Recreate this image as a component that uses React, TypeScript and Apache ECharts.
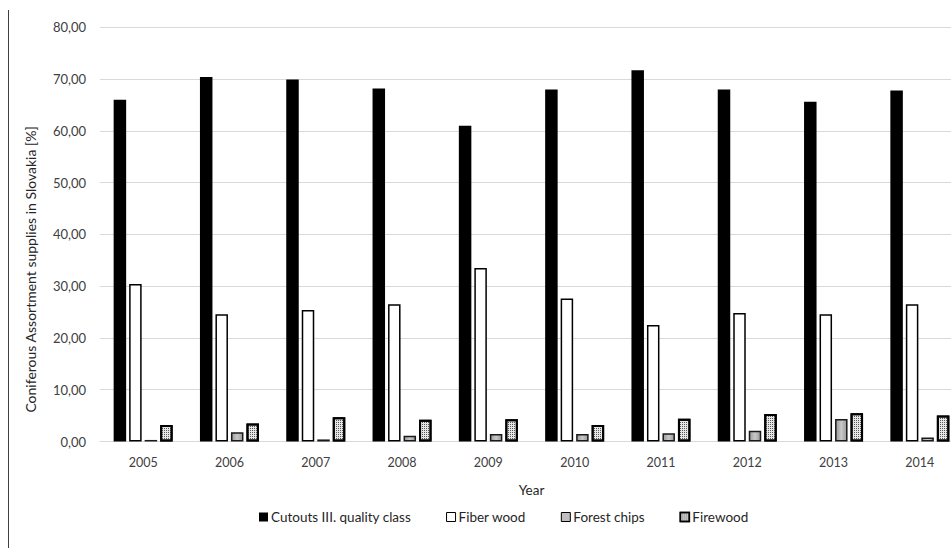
import React, { useEffect, useRef } from "react";
import * as echarts from "echarts";

const years = ["2005", "2006", "2007", "2008", "2009", "2010", "2011", "2012", "2013", "2014"];
const cutouts = [66.0, 70.4, 69.9, 68.2, 61.0, 68.0, 71.7, 68.0, 65.6, 67.8];
const fiberWood = [30.4, 24.6, 25.4, 26.5, 33.5, 27.6, 22.5, 24.8, 24.6, 26.5];
const forestChips = [0.3, 1.8, 0.4, 1.1, 1.45, 1.45, 1.6, 2.1, 4.35, 0.75];
const firewood = [3.2, 3.5, 4.7, 4.2, 4.3, 3.2, 4.4, 5.3, 5.45, 5.0];
const yTicks = { min: 0, max: 80, interval: 10 };

const FONT = "Lato, 'Liberation Sans', sans-serif";

export default function App() {
  const ref = useRef<HTMLDivElement>(null);
  useEffect(() => {
    if (!ref.current) return;
    const chart = echarts.init(ref.current, null, { renderer: "svg" });
    const barW = 12.5;
    const firewoodDecal = {
      symbol: "rect",
      symbolSize: 1,
      color: "rgba(40,40,40,0.75)",
      dashArrayX: [1, 1],
      dashArrayY: [1, 1],
      rotation: 0,
    };
    chart.setOption({
      animation: false,
      backgroundColor: "#fff",
      textStyle: { fontFamily: FONT },
      grid: { left: 100, right: 7, top: 27.3, bottom: 106.5, containLabel: false },
      graphic: [
        {
          type: "line",
          shape: { x1: 8.5, y1: 10, x2: 8.5, y2: 548 },
          style: { stroke: "#404040", lineWidth: 1 },
        },
      ],
      legend: {
        bottom: 19,
        left: 254,
        itemWidth: 9,
        itemHeight: 9,
        itemGap: 35,
        icon: "rect",
        textStyle: { fontSize: 13.5, color: "#262626", fontFamily: FONT, padding: [0, 0, 0, -2] },
        data: [
          { name: "Cutouts III. quality class", itemStyle: { color: "#000", borderWidth: 0 } },
          { name: "Fiber wood", itemStyle: { color: "#fff", borderColor: "#000", borderWidth: 1 } },
          { name: "Forest chips", itemStyle: { color: "#bfbfbf", borderColor: "#000", borderWidth: 1 } },
          { name: "Firewood", itemStyle: { color: "#d8d8d8", borderColor: "#000", borderWidth: 1.5, decal: firewoodDecal } },
        ],
      },
      xAxis: {
        type: "category",
        data: years,
        name: "Year",
        nameLocation: "middle",
        nameGap: 41,
        nameTextStyle: { fontSize: 13.5, color: "#262626" },
        axisLine: { show: true, lineStyle: { color: "#d9d9d9", width: 1 } },
        axisTick: { show: false },
        axisLabel: { fontSize: 12.5, color: "#404040", margin: 14 },
      },
      yAxis: {
        type: "value",
        min: yTicks.min,
        max: yTicks.max,
        interval: yTicks.interval,
        name: "Coniferous Assortment supplies in Slovakia [%]",
        nameLocation: "middle",
        nameGap: 63,
        nameTextStyle: { fontSize: 14, color: "#262626", padding: [0, 70, 0, 0] },
        axisLine: { show: false },
        axisTick: { show: false },
        splitLine: { lineStyle: { color: "#d9d9d9", width: 1 } },
        axisLabel: {
          fontSize: 13,
          color: "#404040",
          margin: 14,
          formatter: (v: number) => v.toFixed(2).replace(".", ","),
        },
      },
      series: [
        {
          name: "Cutouts III. quality class",
          type: "bar",
          data: cutouts,
          barWidth: barW,
          barGap: "24%",
          itemStyle: { color: "#000" },
        },
        {
          name: "Fiber wood",
          type: "bar",
          data: fiberWood,
          barWidth: barW,
          barGap: "24%",
          itemStyle: { color: "#fff", borderColor: "#000", borderWidth: 1.5 },
        },
        {
          name: "Forest chips",
          type: "bar",
          data: forestChips,
          barWidth: barW,
          barGap: "24%",
          itemStyle: {
            color: new echarts.graphic.LinearGradient(0, 0, 1, 0, [
              { offset: 0, color: "#9a9a9a" },
              { offset: 0.5, color: "#c8c8c8" },
              { offset: 1, color: "#9a9a9a" },
            ]),
            borderColor: "#1a1a1a",
            borderWidth: 1.5,
          },
        },
        {
          name: "Firewood",
          type: "bar",
          data: firewood,
          barWidth: barW,
          barGap: "24%",
          itemStyle: { color: "#e6e6e6", borderColor: "#000", borderWidth: 2, decal: firewoodDecal },
        },
      ],
    });
    return () => chart.dispose();
  }, []);
  return (
    <div style={{ position: "fixed", left: 0, top: 0, width: 951, height: 548, overflow: "hidden", background: "#fff" }}>
      <div ref={ref} style={{ width: 970, height: 548 }} />
    </div>
  );
}
